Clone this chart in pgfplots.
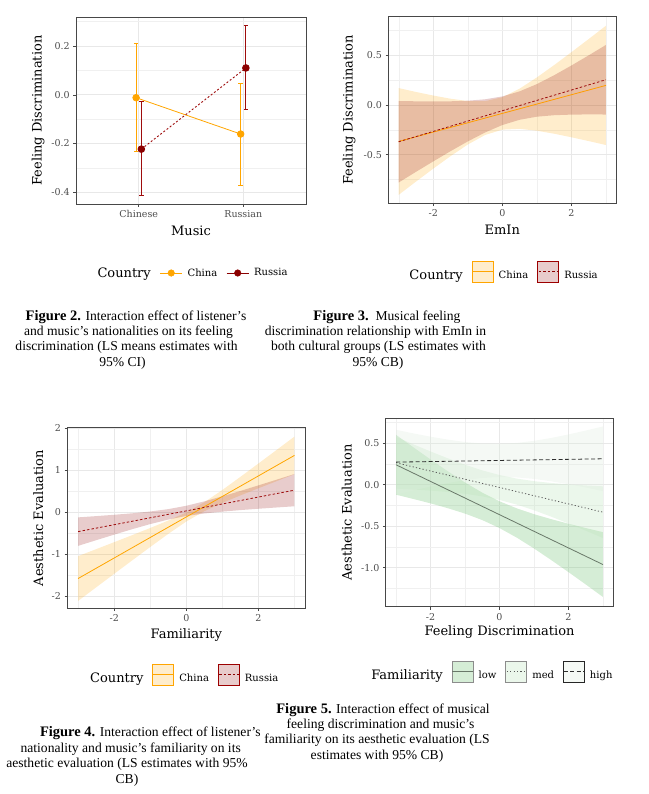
\documentclass[border=0pt]{standalone}
\usepackage{pgfplots}
\pgfplotsset{compat=1.18}
\usepackage{pgfplotstable}
\usepgfplotslibrary{fillbetween}
\usepackage{fontspec}
\setmainfont{DejaVu Serif}
\newfontfamily\capfont{Liberation Serif}
\definecolor{cnor}{RGB}{255,165,0}
\definecolor{darkr}{RGB}{139,0,0}
\definecolor{barr}{RGB}{158,12,12}
\definecolor{lowline}{RGB}{105,120,105}
\definecolor{medline}{RGB}{90,90,90}
\definecolor{highline}{RGB}{45,45,45}
\definecolor{lowfill}{RGB}{116,196,118}
\definecolor{medfill}{RGB}{190,228,190}
\definecolor{highfill}{RGB}{222,236,222}

\pgfplotstableread{
x    clo     chi    cfit    rlo     rhi    rfit
-3   -0.904  0.170  -0.367  -0.780  0.040  -0.370
-2.5 -0.771  0.131  -0.320  -0.673  0.037  -0.318
-2   -0.641  0.095  -0.273  -0.568  0.036  -0.266
-1.5 -0.515  0.063  -0.226  -0.465  0.037  -0.214
-1   -0.398  0.040  -0.179  -0.367  0.043  -0.162
-0.5 -0.302  0.038  -0.132  -0.277  0.057  -0.110
0    -0.248  0.078  -0.085  -0.202  0.086  -0.058
0.5  -0.240  0.164  -0.038  -0.149  0.137  -0.006
1    -0.259  0.277   0.009  -0.118  0.210   0.046
1.5  -0.289  0.401   0.056  -0.103  0.299   0.098
2    -0.325  0.531   0.103  -0.097  0.397   0.150
2.5  -0.363  0.663   0.150  -0.095  0.499   0.202
3    -0.403  0.797   0.197  -0.096  0.604   0.254
}\tabB

\pgfplotstableread{
x    clo     chi     cfit    rlo     rhi     rfit
-3   -2.120  -1.050  -1.585  -0.805  -0.125  -0.465
-2.5 -1.796  -0.884  -1.340  -0.670  -0.095  -0.3825
-2   -1.473  -0.717  -1.095  -0.537  -0.063  -0.300
-1.5 -1.152  -0.549  -0.850  -0.407  -0.028  -0.2175
-1   -0.832  -0.378  -0.605  -0.285   0.015  -0.135
-0.5 -0.519  -0.201  -0.360  -0.177   0.072  -0.0525
0    -0.224  -0.006  -0.115  -0.092   0.152   0.030
0.5   0.023   0.237   0.130  -0.032   0.257   0.1125
1     0.221   0.529   0.375   0.012   0.378   0.195
1.5   0.399   0.842   0.620   0.049   0.506   0.2775
2     0.570   1.161   0.865   0.081   0.639   0.360
2.5   0.738   1.482   1.110   0.111   0.774   0.4425
3     0.905   1.805   1.355   0.140   0.910   0.525
}\tabC

\pgfplotstableread{
x    llo     lhi     lfit    mlo     mhi     mfit    hlo     hhi    hfit
-3   -0.122   0.598   0.238  -0.049   0.573   0.262  -0.119  0.659  0.270
-2.5 -0.173   0.449   0.138  -0.0595  0.4845  0.2125 -0.070  0.616  0.2733
-2   -0.226   0.302   0.038  -0.0725  0.3985  0.163  -0.023  0.576  0.2766
-1.5 -0.284   0.160  -0.062  -0.089   0.316   0.1135  0.019  0.541  0.280
-1   -0.349   0.025  -0.162  -0.111   0.239   0.064   0.054  0.512  0.2833
-0.5 -0.427  -0.097  -0.262  -0.142   0.171   0.0145  0.079  0.494  0.2866
0    -0.523  -0.201  -0.362  -0.185   0.115  -0.035   0.090  0.490  0.290
0.5  -0.638  -0.286  -0.462  -0.241   0.072  -0.0845  0.086  0.501  0.2934
1    -0.768  -0.356  -0.562  -0.309   0.041  -0.134   0.068  0.526  0.2967
1.5  -0.908  -0.416  -0.662  -0.386   0.019  -0.1835  0.039  0.561  0.300
2    -1.053  -0.471  -0.762  -0.4685  0.0025 -0.233   0.004  0.603  0.3034
2.5  -1.201  -0.523  -0.862  -0.5545 -0.0105 -0.2825 -0.036  0.650  0.3067
3    -1.352  -0.572  -0.962  -0.643  -0.021  -0.332  -0.079  0.699  0.310
}\tabD

\pgfplotsset{
  gg/.style={
    scale only axis,
    axis line style={draw=black!72, line width=0.6pt},
    tick align=outside, tick pos=left,
    major tick length=2.8pt, minor tick length=0pt,
    tick style={black!72, line width=0.5pt},
    grid=both,
    major grid style={draw=black!9, line width=0.6pt},
    minor grid style={draw=black!6, line width=0.3pt},
    tick label style={font=\fontsize{9.5}{10}\selectfont, text=black!70},
    label style={font=\fontsize{13}{14}\selectfont},
    legend style={draw=none, fill=none, legend columns=-1,
      font=\fontsize{10}{12}\selectfont, anchor=center,
      /tikz/every odd column/.append style={column sep=3pt},
      /tikz/every even column/.append style={column sep=7pt}},
  },
  rbar/.style={draw=barr, line width=1pt, solid, mark=none, forget plot},
}

\begin{document}
\begin{tikzpicture}
\path (0pt,0pt) rectangle (648pt,-794pt);

% ---------------- Figure 2 ----------------
\begin{axis}[gg, at={(76pt,-17pt)}, anchor=north west, width=230pt, height=187pt,
  xmin=0.4, xmax=2.6, ymin=-0.448, ymax=0.319,
  xtick={1,2}, xticklabels={Chinese,Russian},
  ytick={-0.4,-0.2,0,0.2}, yticklabels={-0.4,-0.2,0.0,0.2},
  minor ytick={-0.3,-0.1,0.1,0.3},
  xlabel={Music}, ylabel={Feeling Discrimination},
  xlabel style={at={(axis description cs:0.5,-0.144)}, anchor=center},
  ylabel style={at={(axis description cs:-0.165,0.5)}, anchor=center},
  legend style={at={(0.5,-0.369)}}]
\addlegendimage{empty legend}
\addlegendentry{\fontsize{13}{14}\selectfont Country}
\addlegendimage{legend image code/.code={\draw[cnor, line width=0.8pt] (0pt,0pt) -- (22pt,0pt); \fill[cnor] (11pt,0pt) circle (3.3pt);}}
\addlegendentry{China}
\addlegendimage{legend image code/.code={\draw[darkr, line width=0.8pt] (0pt,0pt) -- (22pt,0pt); \fill[darkr] (11pt,0pt) circle (3.3pt);}}
\addlegendentry{Russia}
\addplot[color=cnor, line width=0.8pt, mark=*, mark size=3.3pt, forget plot,
  error bars/.cd, y dir=both, y explicit,
  error bar style={draw=cnor, line width=0.9pt, solid},
  error mark options={draw=cnor, line width=0.9pt, mark size=2.3pt, rotate=90}]
  coordinates {(0.975,-0.012) += (0,0.222) -= (0,0.222)
               (1.975,-0.161) += (0,0.208) -= (0,0.209)};
% Russia: 95% CI bars
\addplot[rbar] coordinates {(1.025,-0.415) (1.025,-0.026)};
\addplot[rbar] coordinates {(1.003,-0.415) (1.047,-0.415)};
\addplot[rbar] coordinates {(1.003,-0.026) (1.047,-0.026)};
\addplot[rbar] coordinates {(2.025,-0.062) (2.025,0.285)};
\addplot[rbar] coordinates {(2.003,-0.062) (2.047,-0.062)};
\addplot[rbar] coordinates {(2.003,0.285) (2.047,0.285)};
\addplot[draw=barr, line width=0.9pt, dash pattern=on 2pt off 2pt, mark=*, mark size=3.3pt,
  mark options={solid, draw=darkr, fill=darkr}, forget plot]
  coordinates {(1.025,-0.223) (2.025,0.110)};
\end{axis}

% ---------------- Figure 3 ----------------
\begin{axis}[gg, at={(388.3pt,-16.7pt)}, anchor=north west, width=228pt, height=186.6pt,
  xmin=-3.3, xmax=3.3, ymin=-0.989, ymax=0.888,
  xtick={-2,0,2}, xticklabels={-2,0,2}, minor xtick={-3,-1,1,3},
  ytick={-0.5,0,0.5}, yticklabels={-0.5,0.0,0.5}, minor ytick={-0.75,-0.25,0.25,0.75},
  xlabel={EmIn}, ylabel={Feeling Discrimination},
  xlabel style={at={(axis description cs:0.5,-0.143)}, anchor=center},
  ylabel style={at={(axis description cs:-0.172,0.5)}, anchor=center},
  legend style={at={(0.499,-0.368)}}]
\addlegendimage{empty legend}
\addlegendentry{\fontsize{13}{14}\selectfont Country}
\addlegendimage{legend image code/.code={\filldraw[fill=cnor!20, draw=cnor, line width=0.9pt] (0pt,-7pt) rectangle (21pt,14pt); \draw[cnor, line width=0.8pt] (0pt,3.5pt) -- (21pt,3.5pt);}}
\addlegendentry{China}
\addlegendimage{legend image code/.code={\filldraw[fill=darkr!20, draw=darkr!85!red, line width=0.9pt] (0pt,-7pt) rectangle (21pt,14pt); \draw[darkr, line width=0.8pt, dash pattern=on 2.5pt off 2pt] (1pt,3.5pt) -- (21pt,3.5pt);}}
\addlegendentry{Russia}
\addplot[name path=chi, draw=none, forget plot] table[x=x,y=chi]{\tabB};
\addplot[name path=clo, draw=none, forget plot] table[x=x,y=clo]{\tabB};
\addplot[fill=cnor, fill opacity=0.2, draw=none, forget plot] fill between[of=chi and clo];
\addplot[name path=rhi, draw=none, forget plot] table[x=x,y=rhi]{\tabB};
\addplot[name path=rlo, draw=none, forget plot] table[x=x,y=rlo]{\tabB};
\addplot[fill=darkr, fill opacity=0.2, draw=none, forget plot] fill between[of=rhi and rlo];
\addplot[cnor!95!red, line width=0.8pt, forget plot] table[x=x,y=cfit]{\tabB};
\addplot[barr, line width=0.8pt, dash pattern=on 2.5pt off 2pt, forget plot] table[x=x,y=rfit]{\tabB};
\end{axis}

% ---------------- Figure 4 ----------------
\begin{axis}[gg, at={(67.3pt,-427.7pt)}, anchor=north west, width=238pt, height=180.6pt,
  xmin=-3.3, xmax=3.3, ymin=-2.296, ymax=2.016,
  xtick={-2,0,2}, xticklabels={-2,0,2}, minor xtick={-3,-1,1,3},
  ytick={-2,-1,0,1,2}, yticklabels={-2,-1,0,1,2}, minor ytick={-1.5,-0.5,0.5,1.5},
  xlabel={Familiarity}, ylabel={Aesthetic Evaluation},
  xlabel style={at={(axis description cs:0.5,-0.148)}, anchor=center},
  ylabel style={at={(axis description cs:-0.122,0.5)}, anchor=center},
  legend style={at={(0.485,-0.369)}}]
\addlegendimage{empty legend}
\addlegendentry{\fontsize{13}{14}\selectfont Country}
\addlegendimage{legend image code/.code={\filldraw[fill=cnor!20, draw=cnor, line width=0.9pt] (0pt,-7pt) rectangle (21pt,14pt); \draw[cnor, line width=0.8pt] (0pt,3.5pt) -- (21pt,3.5pt);}}
\addlegendentry{China}
\addlegendimage{legend image code/.code={\filldraw[fill=darkr!20, draw=darkr!85!red, line width=0.9pt] (0pt,-7pt) rectangle (21pt,14pt); \draw[darkr, line width=0.8pt, dash pattern=on 2.5pt off 2pt] (1pt,3.5pt) -- (21pt,3.5pt);}}
\addlegendentry{Russia}
\addplot[name path=chi, draw=none, forget plot] table[x=x,y=chi]{\tabC};
\addplot[name path=clo, draw=none, forget plot] table[x=x,y=clo]{\tabC};
\addplot[fill=cnor, fill opacity=0.2, draw=none, forget plot] fill between[of=chi and clo];
\addplot[name path=rhi, draw=none, forget plot] table[x=x,y=rhi]{\tabC};
\addplot[name path=rlo, draw=none, forget plot] table[x=x,y=rlo]{\tabC};
\addplot[fill=darkr, fill opacity=0.2, draw=none, forget plot] fill between[of=rhi and rlo];
\addplot[cnor, line width=0.8pt, forget plot] table[x=x,y=cfit]{\tabC};
\addplot[barr, line width=0.8pt, dash pattern=on 2.5pt off 2pt, forget plot] table[x=x,y=rfit]{\tabC};
\end{axis}

% ---------------- Figure 5 ----------------
\begin{axis}[gg, at={(385.7pt,-418.3pt)}, anchor=north west, width=227.6pt, height=188.4pt,
  xmin=-3.3, xmax=3.3, ymin=-1.469, ymax=0.797,
  xtick={-2,0,2}, xticklabels={-2,0,2}, minor xtick={-3,-1,1,3},
  ytick={-1,-0.5,0,0.5}, yticklabels={-1.0,-0.5,0.0,0.5}, minor ytick={-1.25,-0.75,-0.25,0.25,0.75},
  xlabel={Feeling Discrimination}, ylabel={Aesthetic Evaluation},
  xlabel style={at={(axis description cs:0.5,-0.133)}, anchor=center},
  ylabel style={at={(axis description cs:-0.171,0.5)}, anchor=center},
  legend style={at={(0.46,-0.345)}}]
\addlegendimage{empty legend}
\addlegendentry{\fontsize{13}{14}\selectfont Familiarity}
\addlegendimage{legend image code/.code={\filldraw[fill=lowfill!30, draw=black!45, line width=0.9pt] (0pt,-7pt) rectangle (21pt,14pt); \draw[lowline, line width=0.8pt] (0pt,3.5pt) -- (21pt,3.5pt);}}
\addlegendentry{low}
\addlegendimage{legend image code/.code={\filldraw[fill=medfill!30, draw=black!45, line width=0.9pt] (0pt,-7pt) rectangle (21pt,14pt); \draw[medline, line width=0.8pt, dash pattern=on 1.2pt off 2.2pt] (1pt,3.5pt) -- (21pt,3.5pt);}}
\addlegendentry{med}
\addlegendimage{legend image code/.code={\filldraw[fill=highfill!30, draw=black!85, line width=0.9pt] (0pt,-7pt) rectangle (21pt,14pt); \draw[highline, line width=0.8pt, dash pattern=on 4pt off 2.5pt] (0pt,3.5pt) -- (21pt,3.5pt);}}
\addlegendentry{high}
\addplot[name path=lhi, draw=none, forget plot] table[x=x,y=lhi]{\tabD};
\addplot[name path=llo, draw=none, forget plot] table[x=x,y=llo]{\tabD};
\addplot[fill=lowfill, fill opacity=0.3, draw=none, forget plot] fill between[of=lhi and llo];
\addplot[name path=mhi, draw=none, forget plot] table[x=x,y=mhi]{\tabD};
\addplot[name path=mlo, draw=none, forget plot] table[x=x,y=mlo]{\tabD};
\addplot[fill=medfill, fill opacity=0.3, draw=none, forget plot] fill between[of=mhi and mlo];
\addplot[name path=hhi, draw=none, forget plot] table[x=x,y=hhi]{\tabD};
\addplot[name path=hlo, draw=none, forget plot] table[x=x,y=hlo]{\tabD};
\addplot[fill=highfill, fill opacity=0.3, draw=none, forget plot] fill between[of=hhi and hlo];
\addplot[lowline, line width=0.8pt, forget plot] table[x=x,y=lfit]{\tabD};
\addplot[medline, line width=0.8pt, dash pattern=on 1.2pt off 2.2pt, forget plot] table[x=x,y=mfit]{\tabD};
\addplot[highline, line width=0.8pt, dash pattern=on 4pt off 2.5pt, forget plot] table[x=x,y=hfit]{\tabD};
\end{axis}

% ---------------- Captions ----------------
\begin{scope}[every node/.style={anchor=base, inner sep=0pt, font=\capfont\fontsize{13.6}{15}\selectfont}]
\node at (136pt,-320pt) {{\bfseries\fontsize{14.5}{15}\selectfont Figure 2.} Interaction effect of listener’s};
\node at (128.5pt,-335.3pt) {and music’s nationalities on its feeling};
\node at (126.5pt,-350.6pt) {discrimination (LS means estimates with};
\node at (122.5pt,-366pt) {95\% CI)};

\node at (387pt,-320pt) {{\bfseries\fontsize{14.5}{15}\selectfont Figure 3.}\ \ Musical feeling};
\node at (375.5pt,-335.3pt) {discrimination relationship with EmIn in};
\node at (378.5pt,-350.6pt) {both cultural groups (LS estimates with};
\node at (378pt,-366pt) {95\% CB)};

\node at (150.3pt,-736.5pt) {{\bfseries\fontsize{14.5}{15}\selectfont Figure 4.} Interaction effect of listener’s};
\node at (130.7pt,-752pt) {nationality and music’s familiarity on its};
\node at (127pt,-767.5pt) {aesthetic evaluation (LS estimates with 95\%};
\node at (127pt,-783pt) {CB)};

\node at (383pt,-713pt) {{\bfseries\fontsize{14.5}{15}\selectfont Figure 5.} Interaction effect of musical};
\node at (380.5pt,-728.3pt) {feeling discrimination and music’s};
\node at (377pt,-743.5pt) {familiarity on its aesthetic evaluation (LS};
\node at (377pt,-759pt) {estimates with 95\% CB)};
\end{scope}
\end{tikzpicture}
\end{document}
